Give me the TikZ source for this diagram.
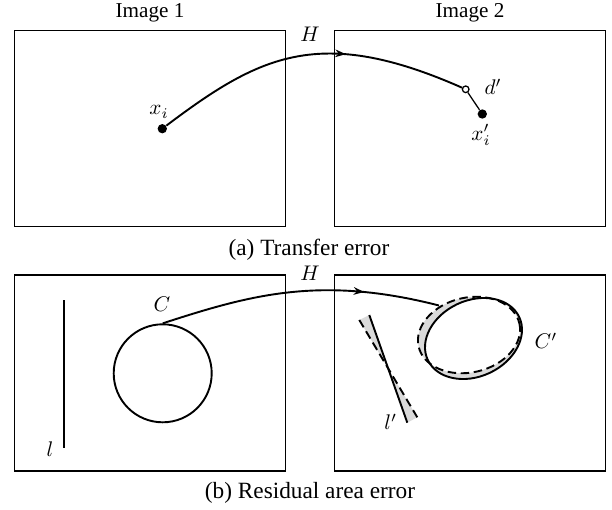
\documentclass[tikz,border=0pt]{standalone}
\usepackage{fontspec}
\setmainfont{Liberation Serif}
\usetikzlibrary{arrows.meta,decorations.markings}
\definecolor{CLN}{RGB}{0,0,0}
\definecolor{CRES}{RGB}{218,218,218}

\begin{document}
\begin{tikzpicture}[x=0.0166cm,y=-0.0166cm,font=\normalsize,
  frame/.style={draw=CLN,line width=0.6pt},
  curve/.style={draw=CLN,line width=0.9pt},
  dot/.style={circle,fill=CLN,inner sep=0pt,minimum size=0.155cm},
  odot/.style={circle,draw=CLN,fill=white,line width=0.6pt,inner sep=0pt,minimum size=0.11cm},
  midarrow/.style={postaction={decorate},decoration={markings,
      mark=at position #1 with {\arrow{Stealth[length=5pt,width=3.6pt]}}}},
  lab/.style={inner sep=0pt},
  caption/.style={inner sep=0pt,font=\fontsize{11}{13}\selectfont}]
  \useasboundingbox (0,0) rectangle (612,510);
  % — image frames
  \draw[frame] (14.7,30.7) rectangle (285.7,226.7);
  \draw[frame] (334.3,30.7) rectangle (605.7,226.7);
  \draw[frame] (14.7,275.0) rectangle (285.7,471.0);
  \draw[frame] (334.3,275.0) rectangle (605.7,471.0);
  \node[lab] (img1) at (150,13) {Image 1};
  \node[lab] (img2) at (470,13) {Image 2};
  % — (a) transfer error
  \node[dot] (xi) at (162.3,128.7) {};
  \node[odot] (dp) at (465.7,89.3) {};
  \node[dot] (xip) at (482.3,114.0) {};
  \draw[curve,midarrow=0.62] (xi) .. controls (260,55) and (320,25) .. (dp);
  \draw[line width=0.6pt] (dp) -- (xip);
  \node[lab] (xilab) at (159,112) {$x_i$};
  \node[lab] (dplab) at (493,87) {$d'$};
  \node[lab] (xiplab) at (481,135) {$x_i'$};
  \node[lab] (Ha) at (310,34) {$H$};
  \node[caption] (capa) at (309,250) {(a) Transfer error};
  % — (b) residual area error
  \node[circle,draw=CLN,line width=0.9pt,inner sep=0pt,minimum size=1.627cm] (circC) at (162.7,373.3) {};
  \draw[line width=0.9pt] (64.3,300) -- (64.3,448);
  \fill[CRES,even odd rule] (473.5,338.5) circle [x radius=50.5,y radius=38,rotate=25]
    (469,335) circle [x radius=51.7,y radius=37.4,rotate=13];
  \draw[line width=0.9pt] (473.5,338.5) circle [x radius=50.5,y radius=38,rotate=25];
  \draw[line width=0.9pt,dash pattern=on 4pt off 2.2pt] (469,335) circle [x radius=51.7,y radius=37.4,rotate=13];
  \fill[CRES] (369.3,315) -- (359.3,320) -- (417.3,417.3) -- (407.3,422.7) -- cycle;
  \draw[line width=0.9pt] (369.3,315) -- (407.3,422.7);
  \draw[line width=0.9pt,dash pattern=on 4pt off 2.2pt] (359.3,320) -- (417.3,417.3);
  \coordinate (cpend) at (439,305.5);
  \draw[curve,midarrow=0.73] (circC.north) .. controls (250,295) and (320,275) .. (cpend);
  \node[lab] (Clab) at (162,304) {$C$};
  \node[lab] (llab) at (50,449) {$l$};
  \node[lab] (cplab) at (546,341) {$C'$};
  \node[lab] (lplab) at (390.7,422) {$l'$};
  \node[lab] (Hb) at (310,273) {$H$};
  \node[caption] (capb) at (310,493) {(b) Residual area error};
\end{tikzpicture}
\end{document}
